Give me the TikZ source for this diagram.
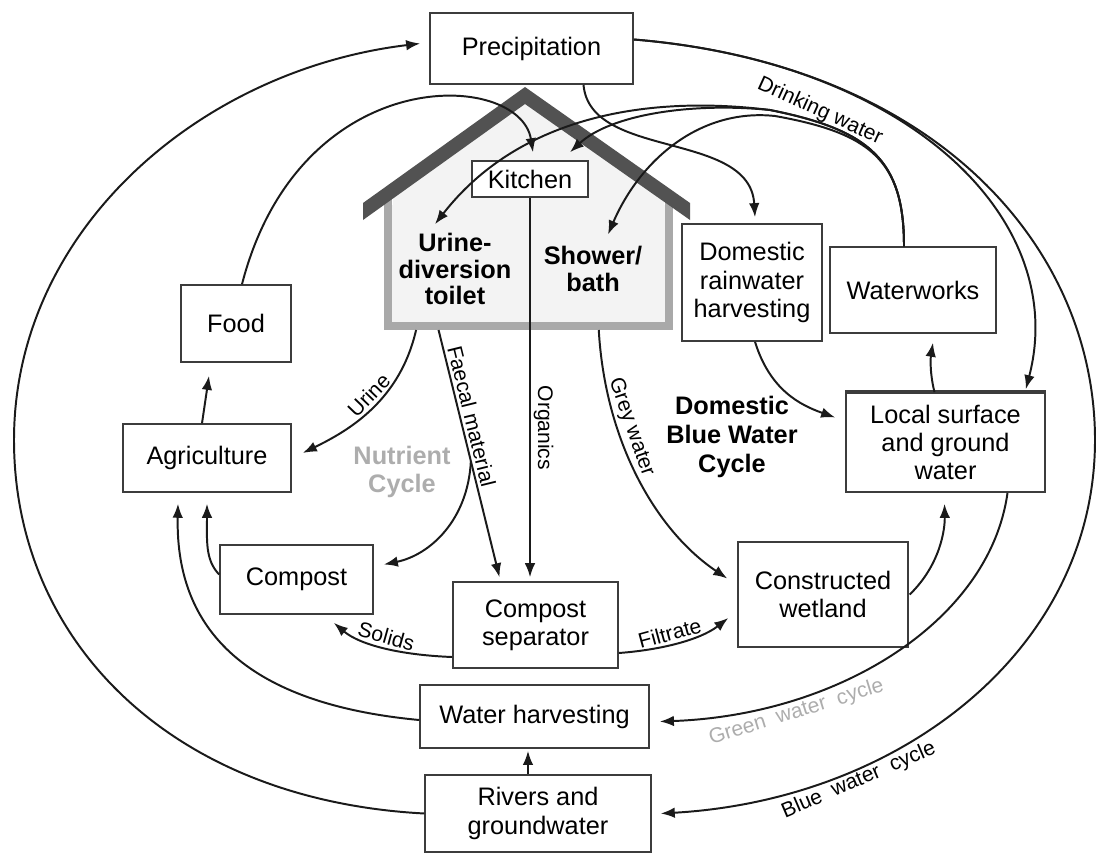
\documentclass[tikz,border=0pt]{standalone}
\usepackage{fontspec}
\setmainfont{Liberation Sans}
\usetikzlibrary{arrows.meta, calc}
\definecolor{cdark}{HTML}{1A1A1A}
\definecolor{cedge}{HTML}{3C3C3C}
\definecolor{croof}{HTML}{525252}
\definecolor{cwall}{HTML}{A9A9A9}
\definecolor{chouse}{HTML}{F3F3F3}
\definecolor{cpale}{HTML}{ADADAD}
\tikzset{
  every picture/.style={line width=1.4pt},
  box/.style={draw=cedge, line width=1pt, fill=white, align=center, inner sep=2pt, font=\fontsize{18}{20}\selectfont},
  room/.style={align=center, inner sep=2pt, font=\fontsize{18}{19}\selectfont\bfseries},
  flow/.style={-{Latex[length=10pt, width=7.5pt]}, draw=cdark, line width=1.4pt},
  lab/.style={sloped, inner sep=2pt, font=\fontsize{15}{17}\selectfont},
  cyclename/.style={align=center, font=\fontsize{18}{20.5}\selectfont\bfseries},
}

\begin{document}
\begin{tikzpicture}[x=0.025cm, y=-0.025cm]
  \useasboundingbox (0,0) rectangle (1098,854);
  % the house
  \node[fill=chouse, minimum width=6.975cm, minimum height=3cm, inner sep=0pt] (house) at (528.5,265) {};
  \fill[chouse] (393,209) -- (393,190) -- (525,100) -- (664,190) -- (664,209) -- cycle;
  \draw[cwall, line width=0.2cm] ($(house.north west)+(0,-10)$) -- (house.south west) -- (house.south east) -- ($(house.north east)+(0,-10)$);
  \fill[croof] (363,203) -- (525,87) -- (690,203) -- (690,220) -- (525,104) -- (363,220) -- cycle;
  \node[room] (toilet) at (455,269) {Urine-\\diversion\\toilet};
  \node[room] (shower) at (593,269) {Shower/\\bath};
  \node[box, minimum width=2.9cm, minimum height=0.9cm] (kitchen) at (530,179) {Kitchen};
  % boxes
  \node[box, minimum width=5.08cm, minimum height=1.78cm] (precip) at (531.5,48.5) {Precipitation};
  \node[box, minimum width=3.5cm, minimum height=2.93cm] (rain) at (752,282.5) {Domestic\\rainwater\\harvesting};
  \node[box, minimum width=4.15cm, minimum height=2.15cm] (works) at (913,290) {Waterworks};
  \node[box, minimum width=4.98cm, minimum height=2.48cm] (local) at (945.5,442.5) {Local surface\\and ground\\water};
  \draw[cedge, line width=0.09cm] (local.north west) -- (local.north east);
  \node[box, minimum width=2.75cm, minimum height=1.93cm] (food) at (236,323.5) {Food};
  \node[box, minimum width=4.2cm, minimum height=1.7cm] (agri) at (207,458) {Agriculture};
  \node[box, minimum width=3.83cm, minimum height=1.73cm] (compost) at (296.5,579.5) {Compost};
  \node[box, minimum width=4.13cm, minimum height=2.15cm] (sep) at (535.5,625) {Compost\\separator};
  \node[box, minimum width=4.25cm, minimum height=2.63cm] (wetland) at (823,594.5) {Constructed\\wetland};
  \node[box, minimum width=5.73cm, minimum height=1.58cm] (wharv) at (534.5,716.5) {Water harvesting};
  \node[box, minimum width=5.65cm, minimum height=1.93cm] (rivers) at (538,813.5) {Rivers and\\groundwater};
  \node[cyclename, text=cpale] (nutrient) at (402,472) {Nutrient\\Cycle};
  \node[cyclename] (bluecycle) at (732,437) {Domestic\\Blue Water\\Cycle};
  % outer water cycles
  \draw[flow] (rivers.west) .. controls (170,800) and (14,640) .. (14,440) .. controls (14,230) and (200,70) .. ($(precip.west)+(-9,-5)$);
  \draw[flow] ($(precip.east)+(0,-9)$) .. controls (940,65) and (1095,250) .. (1095,440) .. controls (1095,650) and (900,800) .. node[lab, below, inner sep=1pt, pos=0.71] {Blue\ \ water\ \ cycle} ($(rivers.east)+(9,0)$);
  \draw[flow] ($(precip.east)+(0,-9)$) .. controls (910,62) and (1070,220) .. ($(local.north east)+(-20,-3)$);
  \draw[flow] ($(local.south)+(62,0)$) .. controls (990,620) and (840,715) .. node[lab, text=cpale, below, pos=0.74] {Green\ \ water\ \ cycle} ($(wharv.east)+(10,5)$);
  \draw[flow] ($(rivers.north)+(-10,0)$) -- ($(wharv.south)+(-6.5,2)$);
  \draw[flow] ($(wharv.west)+(0,3.5)$) .. controls (260,705) and (175,640) .. ($(agri.south)+(-29,11)$);
  % domestic blue water cycle
  \draw[flow] ($(precip.south)+(52,0)$) .. controls (590,160) and (750,130) .. ($(rain.north)+(3,-6)$);
  \draw[flow] ($(rain.south)+(3,0)$) .. controls (770,390) and (800,405) .. ($(local.west)+(-10,-25)$);
  \draw[flow] ($(local.north)+(-11,0)$) .. controls (929,370) and (931,355) .. ($(works.south)+(20,9)$);
  \draw[flow] ($(wetland.east)+(1,0)$) .. controls (940,565) and (945,530) .. ($(local.south)+(-1,11)$);
  \draw[flow] ($(works.north)+(-9,0)$) .. controls (904,160) and (870,130) .. node[lab, above, inner sep=0pt, pos=0.83, rotate=-7] {Drinking water} (770,110) .. controls (650,95) and (520,115) .. ($(toilet.north)+(-20,-5)$);
  \draw[flow] ($(works.north)+(-9,0)$) .. controls (904,160) and (870,130) .. (770,110) .. controls (690,102) and (610,115) .. ($(kitchen.north)+(40,-8)$);
  \draw[flow] ($(works.north)+(-9,0)$) .. controls (904,160) and (870,133) .. (775,116) .. controls (700,108) and (640,160) .. ($(shower.north)+(15,-8)$);
  \draw[flow] ($(house.south west)!0.75!(house.south east)+(0,4)$) .. controls (605,440) and (655,530) .. node[lab, above, pos=0.33] {Grey water} ($(wetland.west)+(-10,-16)$);
  \draw[flow] ($(sep.east)+(0,28)$) .. controls (660,650) and (700,640) .. node[lab, above, pos=0.45] {Filtrate} ($(wetland.west)+(-9,23.5)$);
  % nutrient cycle
  \coordinate (faecalA) at ($(house.south west)!0.18!(house.south east)+(0,4)$);
  \coordinate (faecalB) at ($(sep.north)+(-36,-4)$);
  \draw[flow] (faecalA) -- node[lab, above, pos=0.36] {Faecal material} (faecalB);
  \draw[flow] ($(faecalA)!0.53!(faecalB)$) .. controls (468,520) and (430,555) .. ($(compost.east)+(10,-15)$);
  \draw[flow] ($(house.south west)!0.1!(house.south east)+(0,4)$) .. controls (400,400) and (350,430) .. node[lab, above, pos=0.45] {Urine} ($(agri.east)+(11,-5)$);
  \draw[flow, shorten >=0.1cm] (kitchen.south) -- node[lab, above, pos=0.6] {Organics} (kitchen.south |- sep.north);
  \draw[flow] ($(sep.west)+(0,32)$) .. controls (400,655) and (360,645) .. node[lab, above, pos=0.5] {Solids} ($(compost.south east)+(-40,8)$);
  \draw[flow] ($(compost.west)+(0,-5)$) .. controls (205,560) and (207,540) .. ($(agri.south)+(0,11)$);
  \draw[flow] ($(agri.north)+(-5,0)$) -- ($(food.south)+(-27,13)$);
  \draw[flow] ($(food.north)+(6,0)$) .. controls (300,60) and (520,70) .. ($(kitchen.north)+(3,-8)$);
\end{tikzpicture}
\end{document}
